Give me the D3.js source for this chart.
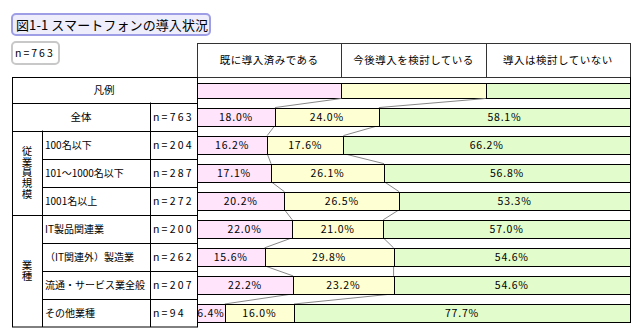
<!DOCTYPE html>
<html><head><meta charset="utf-8">
<script src="https://cdn.jsdelivr.net/npm/d3@7"></script>
<style>
html,body{margin:0;padding:0;background:#fff;}
svg{display:block;font-family:"Noto Sans CJK JP","Noto Sans",sans-serif;}
</style></head>
<body><svg id="c" width="640" height="334"></svg>
<script>
const title = "図1-1 スマートフォンの導入状況";
const totalLabel = "n=763";
const seriesNames = ["既に導入済みである", "今後導入を検討している", "導入は検討していない"];
const legendValues = [100/3, 100/3, 100/3];
const categories = ["全体", "100名以下", "101～1000名以下", "1001名以上", "IT製品関連業", "（IT関連外）製造業", "流通・サービス業全般", "その他業種"];
const counts = [763, 204, 287, 272, 200, 262, 207, 94];
const adopted = [18.0, 16.2, 17.1, 20.2, 22.0, 15.6, 22.2, 6.4];
const considering = [24.0, 17.6, 26.1, 26.5, 21.0, 29.8, 23.2, 16.0];
const notConsidering = [58.1, 66.2, 56.8, 53.3, 57.0, 54.6, 54.6, 77.7];
const groupNames = ["従業員規模", "業種"];
const groupMembers = [[1, 2, 3], [4, 5, 6, 7]];

const colors = ["#ffe4fc", "#ffffd4", "#e2fccc"];
const svg = d3.select("#c");

const keys = ["a", "b", "c"];
const rows = categories.map((c, i) => ({cat: c, n: counts[i], a: adopted[i], b: considering[i], c: notConsidering[i]}));
const stacked = d3.stack().keys(keys)(rows);

const x = d3.scaleLinear().domain([0, 100]).range([197, 630]);
const y = d3.scaleBand().domain(categories).range([102.5, 327]).paddingInner(0.36).paddingOuter(0.18);
const step = y.step();
const rowTop = c => y(c) - step * 0.18;

// Title box
svg.append("rect").attr("x", 12).attr("y", 14).attr("width", 198).attr("height", 21).attr("rx", 4)
  .attr("fill", "#ededfc").attr("stroke", "#9e9ee6").attr("stroke-width", 2);
svg.append("text").attr("x", 16).attr("y", 29.5).attr("font-size", 13).attr("letter-spacing", 0.1)
  .attr("fill", "#000").text(title);

// n box
svg.append("rect").attr("x", 12).attr("y", 42).attr("width", 47).attr("height", 22).attr("rx", 4)
  .attr("fill", "#fff").attr("stroke", "#c8c8c8").attr("stroke-width", 2);
svg.append("text").attr("x", 15).attr("y", 57).attr("font-size", 10.5).attr("letter-spacing", 2)
  .attr("fill", "#000").text(totalLabel);

// Header table
const legCum = d3.cumsum(legendValues);
const legStart = [0, ...legCum.slice(0, -1)];
svg.append("rect").attr("x", x(0) + 0.5).attr("y", 43.5).attr("width", x(100) - x(0)).attr("height", 34)
  .attr("fill", "#fff").attr("stroke", "#333");
legStart.slice(1).forEach(v => {
  svg.append("line").attr("x1", Math.round(x(v)) + 0.5).attr("x2", Math.round(x(v)) + 0.5)
    .attr("y1", 43.5).attr("y2", 77.5).attr("stroke", "#333");
});
seriesNames.forEach((s, i) => {
  svg.append("text").attr("x", x(legStart[i] + legendValues[i] / 2)).attr("y", 64)
    .attr("text-anchor", "middle").attr("font-size", 10.5).attr("letter-spacing", 0.5).text(s);
});

// Plot frame (right border)
const lastBottom = y(categories[categories.length - 1]) + y.bandwidth();
svg.append("line").attr("x1", 630.5).attr("x2", 630.5).attr("y1", 77).attr("y2", lastBottom).attr("stroke", "#000");

// Left table
const L = 12.5, R = 197.5, G = 42.5, N = 150.5;
const tbl = svg.append("g").attr("stroke", "#000").attr("fill", "none");
tbl.append("rect").attr("x", L).attr("y", 77.5).attr("width", R - L).attr("height", 327 - 77.5);
const hl = (x1, x2, yy) => tbl.append("line").attr("x1", x1).attr("x2", x2).attr("y1", Math.round(yy) + 0.5).attr("y2", Math.round(yy) + 0.5);
hl(L, R, 102.5);
hl(L, R, rowTop(categories[1]));
groupMembers.forEach((m, gi) => {
  m.forEach((ci, k) => { if (k > 0) hl(G, R, rowTop(categories[ci])); });
  if (gi > 0) hl(L, R, rowTop(categories[m[0]]));
});
tbl.append("line").attr("x1", G).attr("x2", G).attr("y1", rowTop(categories[1])).attr("y2", 327);
tbl.append("line").attr("x1", N).attr("x2", N).attr("y1", 102.5).attr("y2", 327);

svg.append("text").attr("x", 104).attr("y", 94).attr("text-anchor", "middle").attr("font-size", 10.5).text("凡例");

// Row labels
categories.forEach((c, i) => {
  const cy = y(c) + y.bandwidth() / 2;
  const t = svg.append("text").attr("y", cy + 4).attr("font-size", 10.5);
  if (i === 0) t.attr("x", 81).attr("text-anchor", "middle").text(c);
  else t.attr("x", 45).attr("font-size", 10).attr("letter-spacing", 0).text(c);
  svg.append("text").attr("x", 153).attr("y", cy + 4).attr("font-size", 10.5).attr("letter-spacing", 2.2)
    .text("n=" + counts[i]);
});

// Group vertical labels
groupNames.forEach((g, gi) => {
  const m = groupMembers[gi];
  const top = rowTop(categories[m[0]]);
  const bot = rowTop(categories[m[m.length - 1]]) + step;
  const mid = (top + bot) / 2;
  svg.append("text").attr("x", 27).attr("y", mid)
    .attr("writing-mode", "tb").style("writing-mode", "vertical-rl")
    .attr("text-anchor", "middle").attr("font-size", 10.5).attr("letter-spacing", 0.3).text(g);
});

// Legend bar
legStart.forEach((v, i) => {
  svg.append("rect").attr("x", Math.round(x(v)) + 0.5).attr("y", 83.5)
    .attr("width", Math.round(x(v + legendValues[i])) - Math.round(x(v))).attr("height", 15)
    .attr("fill", colors[i]).attr("stroke", "#000");
});

// Connector lines
const cum = rows.map(r => [r.a, r.a + r.b]);
const conn = svg.append("g").attr("stroke", "#888").attr("stroke-width", 1);
const prevB = [[legCum[0], legCum[1]], ...cum];
const prevY = [98.5, ...categories.map(c => y(c) + y.bandwidth())];
categories.forEach((c, i) => {
  [0, 1].forEach(k => {
    conn.append("line").attr("x1", x(prevB[i][k])).attr("y1", prevY[i])
      .attr("x2", x(cum[i][k])).attr("y2", y(c));
  });
});

// Bars
stacked.forEach((s, si) => {
  svg.append("g").selectAll("rect").data(s).join("rect")
    .attr("x", d => Math.round(x(d[0])) + 0.5)
    .attr("y", d => Math.round(y(d.data.cat)) + 0.5)
    .attr("width", d => Math.round(x(Math.min(d[1], 100))) - Math.round(x(d[0])))
    .attr("height", Math.round(y.bandwidth()))
    .attr("fill", colors[si]).attr("stroke", "#000");
  svg.append("g").selectAll("text").data(s).join("text")
    .attr("x", d => (x(d[0]) + x(Math.min(d[1], 100))) / 2)
    .attr("y", d => y(d.data.cat) + y.bandwidth() / 2 + 4)
    .attr("text-anchor", "middle").attr("font-size", 10.5).attr("letter-spacing", 0.8)
    .text(d => (d[1] - d[0]).toFixed(1) + "%");
});
</script></body></html>
